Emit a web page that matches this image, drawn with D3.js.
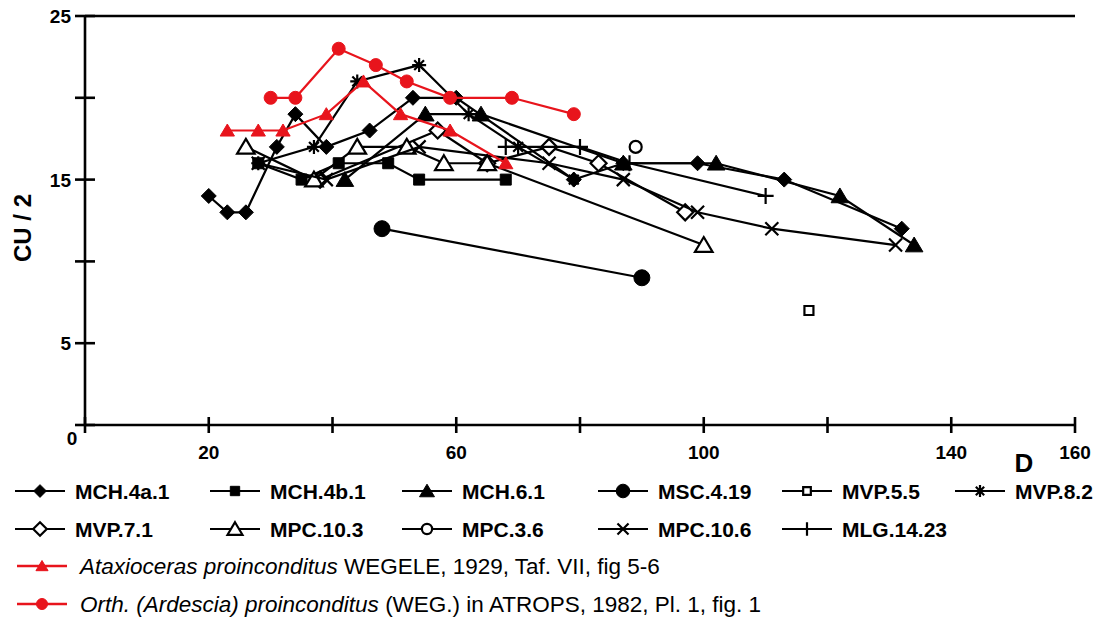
<!DOCTYPE html>
<html>
<head>
<meta charset="utf-8">
<script src="https://cdn.jsdelivr.net/npm/d3@7"></script>
<style>
  body { margin: 0; background: #fff; }
  svg { display: block; }
</style>
</head>
<body>
<div id="chart"></div>
<script>
// axis ticks
const xTicks = [0, 20, 40, 60, 80, 100, 120, 140, 160];
const xLabels = [20, 60, 100, 140, 160];
const yTicks = [0, 5, 10, 15, 20, 25];
const yLabels = [5, 15, 25];

// series: D (x) and CU/2 (y)
const mch4a1D = [20, 23, 26, 31, 34, 39, 46, 53, 60, 79, 87, 99, 113, 132];
const mch4a1C = [14, 13, 13, 17, 19, 17, 18, 20, 20, 15, 16, 16, 15, 12];
const mch4b1D = [28, 35, 41, 49, 54, 68];
const mch4b1C = [16, 15, 16, 16, 15, 15];
const mch61D = [42, 55, 64, 87, 102, 122, 134];
const mch61C = [15, 19, 19, 16, 16, 14, 11];
const msc419D = [48, 90];
const msc419C = [12, 9];
const mvp55D = [117];
const mvp55C = [7];
const mvp82D = [28, 37, 44, 54, 62, 70, 79];
const mvp82C = [16, 17, 21, 22, 19, 17, 15];
const mvp71D = [38, 57, 65, 75, 83, 97];
const mvp71C = [15, 18, 16, 17, 16, 13];
const mpc103D = [26, 37, 44, 52, 58, 65, 100];
const mpc103C = [17, 15, 17, 17, 16, 16, 11];
const mpc36D = [89];
const mpc36C = [17];
const mpc106D = [28, 39, 54, 75, 87, 99, 111, 131];
const mpc106C = [16, 15, 17, 16, 15, 13, 12, 11];
const mlg1423D = [68, 80, 88, 110];
const mlg1423C = [17, 17, 16, 14];
const ataxD = [23, 28, 32, 39, 45, 51, 59, 68];
const ataxC = [18, 18, 18, 19, 21, 19, 18, 16];
const orthD = [30, 34, 41, 47, 52, 59, 69, 79];
const orthC = [20, 20, 23, 22, 21, 20, 20, 19];

const RED = "#e8141c";

// marker paths
function shapePath(shape, s) {
  if (shape == "diamond") return `M0,${-s}L${s},0L0,${s}L${-s},0Z`;
  if (shape == "square") return `M${-s},${-s}H${s}V${s}H${-s}Z`;
  if (shape == "triangle") return `M0,${-s}L${s * 1.1},${s * 0.85}L${-s * 1.1},${s * 0.85}Z`;
  if (shape == "circle") return `M${s},0A${s},${s} 0 1,1 ${-s},0A${s},${s} 0 1,1 ${s},0Z`;
  if (shape == "cross") return `M${-s},${-s}L${s},${s}M${-s},${s}L${s},${-s}`;
  if (shape == "plus") return `M${-s},0H${s}M0,${-s}V${s}`;
  if (shape == "star") {
    const a = s * 0.7;
    return `M0,${-s}V${s}M${-s},0H${s}M${-a},${-a}L${a},${a}M${-a},${a}L${a},${-a}`;
  }
}

const series = [
  { name: "MCH.4a.1", D: mch4a1D, C: mch4a1C, shape: "diamond", size: 7.5, fill: "#000", color: "#000" },
  { name: "MCH.4b.1", D: mch4b1D, C: mch4b1C, shape: "square", size: 5.5, fill: "#000", color: "#000" },
  { name: "MCH.6.1", D: mch61D, C: mch61C, shape: "triangle", size: 8, fill: "#000", color: "#000" },
  { name: "MSC.4.19", D: msc419D, C: msc419C, shape: "circle", size: 8, fill: "#000", color: "#000" },
  { name: "MVP.5.5", D: mvp55D, C: mvp55C, shape: "square", size: 4.5, fill: "#fff", color: "#000" },
  { name: "MVP.8.2", D: mvp82D, C: mvp82C, shape: "star", size: 7, fill: "none", color: "#000" },
  { name: "MVP.7.1", D: mvp71D, C: mvp71C, shape: "diamond", size: 8, fill: "#fff", color: "#000" },
  { name: "MPC.10.3", D: mpc103D, C: mpc103C, shape: "triangle", size: 8, fill: "#fff", color: "#000" },
  { name: "MPC.3.6", D: mpc36D, C: mpc36C, shape: "circle", size: 6, fill: "#fff", color: "#000" },
  { name: "MPC.10.6", D: mpc106D, C: mpc106C, shape: "cross", size: 6.5, fill: "none", color: "#000" },
  { name: "MLG.14.23", D: mlg1423D, C: mlg1423C, shape: "plus", size: 8, fill: "none", color: "#000" },
  { name: "atax", D: ataxD, C: ataxC, shape: "triangle", size: 6.5, fill: RED, color: RED },
  { name: "orth", D: orthD, C: orthC, shape: "circle", size: 6.5, fill: RED, color: RED }
];

const W = 1097, H = 619;
const svg = d3.select("#chart").append("svg")
  .attr("width", W)
  .attr("height", H)
  .style("font-family", "'Liberation Sans', Arial, sans-serif");

const x = d3.scaleLinear().domain([0, 160]).range([85, 1075]);
const y = d3.scaleLinear().domain([0, 25]).range([425, 16]);

// axes
const axis = svg.append("g").attr("stroke", "#000").attr("stroke-width", 2.6);
axis.append("line").attr("x1", x(0)).attr("x2", x(160)).attr("y1", y(0)).attr("y2", y(0));
axis.append("line").attr("x1", x(0)).attr("x2", x(0)).attr("y1", y(0)).attr("y2", y(25));
axis.append("line").attr("x1", x(0)).attr("x2", x(160)).attr("y1", y(25)).attr("y2", y(25));
axis.selectAll(".xt").data(xTicks).enter().append("line")
  .attr("x1", d => x(d)).attr("x2", d => x(d))
  .attr("y1", y(0) - 8).attr("y2", y(0) + 8);
axis.selectAll(".yt").data(yTicks).enter().append("line")
  .attr("x1", x(0) - 10).attr("x2", x(0) + 10)
  .attr("y1", d => y(d)).attr("y2", d => y(d));

svg.selectAll(".xl").data(xLabels).enter().append("text")
  .attr("x", d => x(d)).attr("y", 459)
  .attr("text-anchor", "middle")
  .style("font-size", "19px").style("font-weight", "bold")
  .text(d => d);
svg.append("text").attr("x", x(0) - 13).attr("y", 445)
  .attr("text-anchor", "middle")
  .style("font-size", "19px").style("font-weight", "bold")
  .text("0");
svg.selectAll(".yl").data(yLabels).enter().append("text")
  .attr("x", x(0) - 14).attr("y", d => y(d) + 7)
  .attr("text-anchor", "end")
  .style("font-size", "19px").style("font-weight", "bold")
  .text(d => d);

svg.append("text").attr("x", 1024).attr("y", 472)
  .attr("text-anchor", "middle")
  .style("font-size", "26px").style("font-weight", "bold")
  .text("D");
svg.append("text")
  .attr("transform", "translate(31,228)rotate(-90)")
  .attr("text-anchor", "middle")
  .style("font-size", "24px").style("font-weight", "bold")
  .text("CU / 2");

// lines and markers
const line = d3.line().x(d => x(d[0])).y(d => y(d[1]));
const plot = svg.append("g");
series.forEach(function (s) {
  const pts = s.D.map((d, i) => [d, s.C[i]]);
  const g = plot.append("g");
  if (pts.length > 1) {
    g.append("path").attr("d", line(pts))
      .attr("fill", "none").attr("stroke", s.color).attr("stroke-width", 2.2);
  }
  g.selectAll("path.m").data(pts).enter().append("path")
    .attr("class", "m")
    .attr("transform", d => "translate(" + x(d[0]) + "," + y(d[1]) + ")")
    .attr("d", shapePath(s.shape, s.size))
    .attr("fill", s.fill)
    .attr("stroke", s.color)
    .attr("stroke-width", s.fill == "#000" || s.fill == RED ? 1 : 2.2);
});

// legend, rows 1-2
const legCols = [15, 210, 402, 598, 782, 955];
const legRows = [491, 529];
const legend = svg.append("g");
series.slice(0, 11).forEach(function (s, i) {
  const cx = legCols[i % 6], cy = legRows[Math.floor(i / 6)];
  const g = legend.append("g").attr("transform", "translate(" + cx + "," + cy + ")");
  g.append("line").attr("x1", 0).attr("x2", 50).attr("stroke", "#000").attr("stroke-width", 2.2);
  g.append("path").attr("transform", "translate(25,0)")
    .attr("d", shapePath(s.shape, s.size * 0.85))
    .attr("fill", s.fill).attr("stroke", "#000")
    .attr("stroke-width", s.fill == "#000" ? 1 : 2.2);
  g.append("text").attr("x", 60).attr("y", 8)
    .style("font-size", "21px").style("font-weight", "bold")
    .text(s.name);
});

// legend, red rows
const redRows = [
  { s: series[11], y: 566, it: "Ataxioceras proinconditus", rest: " WEGELE, 1929, Taf. VII, fig 5-6" },
  { s: series[12], y: 604, it: "Orth. (Ardescia) proinconditus", rest: " (WEG.) in ATROPS, 1982, Pl. 1, fig. 1" }
];
redRows.forEach(function (r) {
  const g = legend.append("g").attr("transform", "translate(17," + r.y + ")");
  g.append("line").attr("x1", 0).attr("x2", 50).attr("stroke", RED).attr("stroke-width", 2.6);
  g.append("path").attr("transform", "translate(25,0)")
    .attr("d", shapePath(r.s.shape, 5.5))
    .attr("fill", RED).attr("stroke", RED).attr("stroke-width", 1);
  const t = g.append("text").attr("x", 63).attr("y", 8)
    .style("font-size", "22.5px");
  t.append("tspan").style("font-style", "italic").text(r.it);
  t.append("tspan").text(r.rest);
});
</script>
</body>
</html>
